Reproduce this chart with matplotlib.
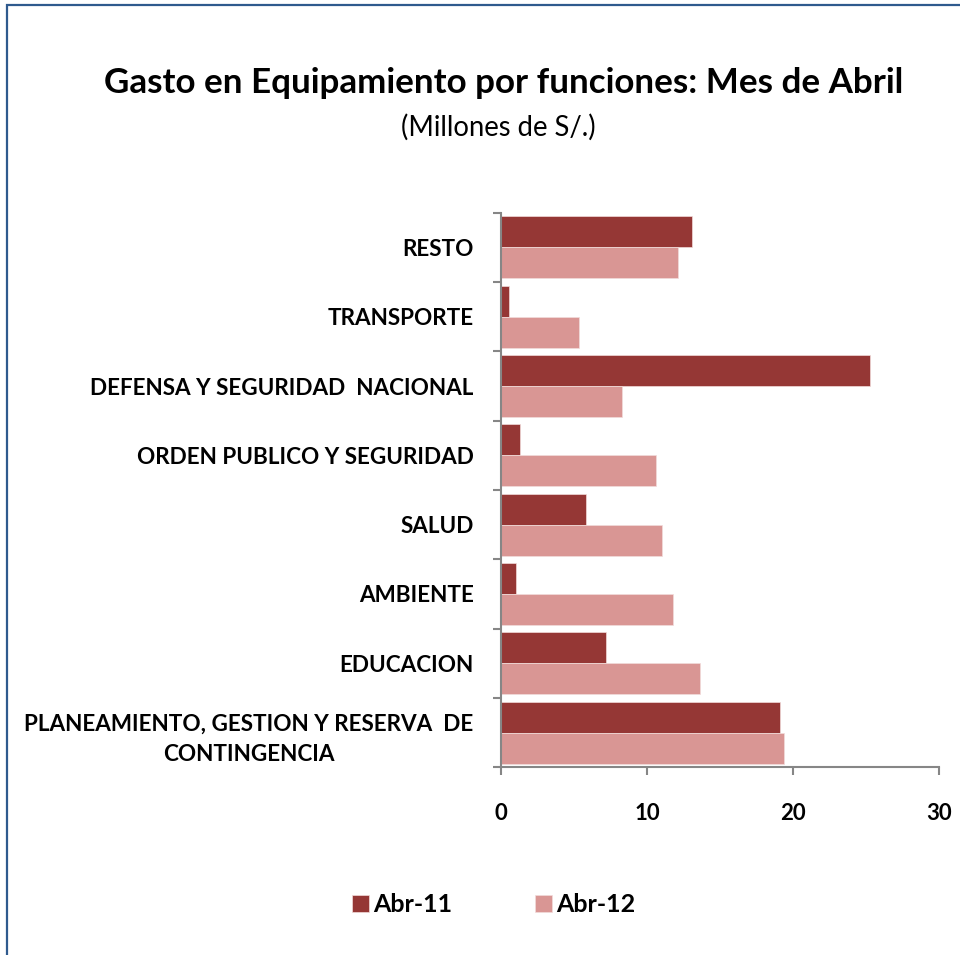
import matplotlib
matplotlib.use("Agg")
import matplotlib.pyplot as plt
from matplotlib.patches import Rectangle
import numpy as np

categories = [
    "PLANEAMIENTO, GESTION Y RESERVA  DE\nCONTINGENCIA",
    "EDUCACION",
    "AMBIENTE",
    "SALUD",
    "ORDEN PUBLICO Y SEGURIDAD",
    "DEFENSA Y SEGURIDAD  NACIONAL",
    "TRANSPORTE",
    "RESTO",
]
abr11 = [19.1, 7.2, 1.0, 5.8, 1.3, 25.3, 0.5, 13.1]
abr12 = [19.4, 13.6, 11.8, 11.0, 10.6, 8.3, 5.3, 12.1]
series_names = ["Abr-11", "Abr-12"]
xticks = [0, 10, 20, 30]

FONT = "Lato"
plt.rcParams["font.family"] = [FONT, "DejaVu Sans"]

W, H = 960, 955
fig = plt.figure(figsize=(W / 100, H / 100), dpi=100)
fig.patch.set_facecolor("white")

# outer border (chart area frame, cropped at right/bottom)
fig.add_artist(Rectangle((7 / W, -0.05), 1.2, 1 - 5 / H + 0.05, transform=fig.transFigure,
                         fill=False, edgecolor="#2F5A8E", linewidth=1.6))

ax = fig.add_axes([501.3 / W, 1 - 767.3 / H, (938.7 - 501.3) / W, (767.3 - 212.7) / H])

y = np.arange(len(categories))
h = 0.447
c11 = "#953735"
c12 = "#D99694"
ax.barh(y + h / 2, abr11, height=h, color=c11, edgecolor="#F2DCDB", linewidth=0.5, label=series_names[0])
ax.barh(y - h / 2, abr12, height=h, color=c12, edgecolor="#F2DCDB", linewidth=0.5, label=series_names[1])

ax.set_xlim(0, 30)
ax.set_ylim(-0.5, len(categories) - 0.5)

gray = "#868686"
for s in ["top", "right"]:
    ax.spines[s].set_visible(False)
for s in ["left", "bottom"]:
    ax.spines[s].set_color(gray)
    ax.spines[s].set_linewidth(1.5)

ax.set_xticks(xticks)
ax.set_xticklabels([str(v) for v in xticks], fontsize=16, fontweight="bold")
ax.tick_params(axis="x", direction="out", length=6, width=1.5, color=gray, pad=20)

ax.set_yticks(np.arange(-0.5, len(categories), 1.0))
ax.set_yticklabels([])
ax.tick_params(axis="y", which="major", direction="out", length=6, width=1.5, color=gray)
ax.set_yticks(y, minor=True)
ax.set_yticklabels(categories, minor=True, fontsize=16.2, fontweight="bold",
                   multialignment="center", linespacing=1.55)
ax.tick_params(axis="y", which="minor", length=0, pad=20)

fig.text(504 / W, 1 - 83 / H, "Gasto en Equipamiento por funciones: Mes de Abril",
         ha="center", va="center", fontsize=25.2, fontweight="bold")
fig.text(498 / W, 1 - 127 / H, "(Millones de S/.)", ha="center", va="center", fontsize=19.8)

leg = fig.legend(loc="center", bbox_to_anchor=(494 / W, 1 - 905 / H), ncol=2, frameon=False,
                 prop={"weight": "bold", "size": 18}, handlelength=0.65, handleheight=0.65,
                 handletextpad=0.2, columnspacing=3.3)

fig.savefig("out.png", dpi=100)
